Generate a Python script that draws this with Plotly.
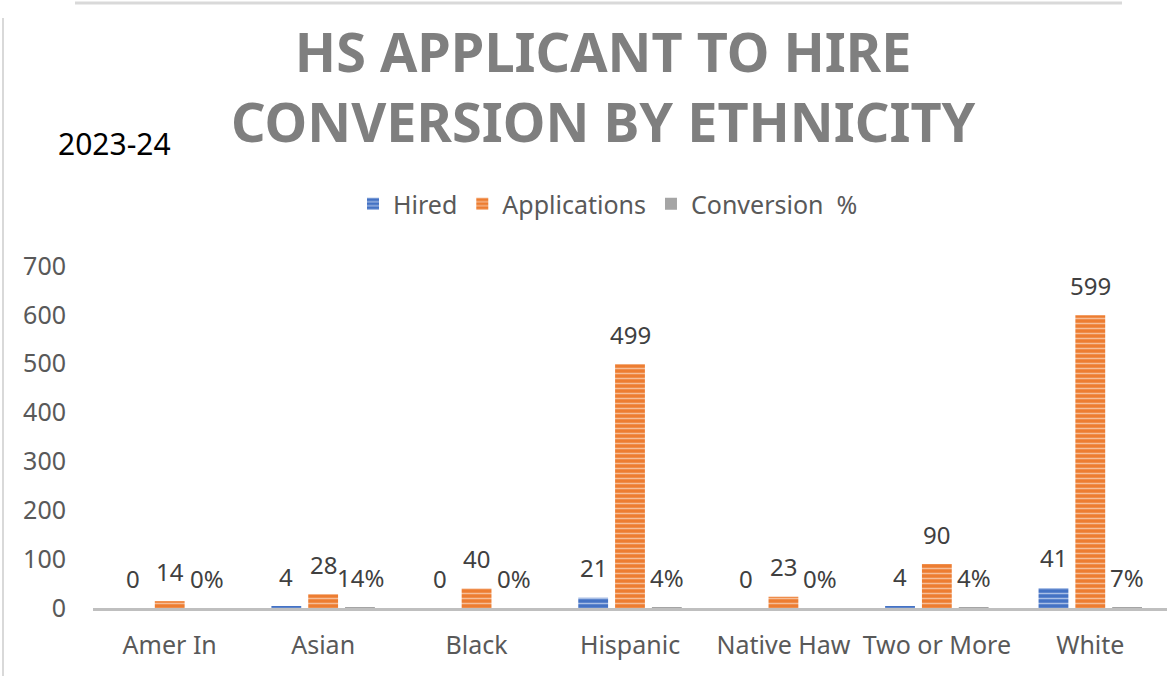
import plotly.graph_objects as go

# Data
categories = ["Amer In", "Asian", "Black", "Hispanic", "Native Haw", "Two or More", "White"]
hired = [0, 4, 0, 21, 0, 4, 41]
applications = [14, 28, 40, 499, 23, 90, 599]
conversion = [0.00, 0.14, 0.00, 0.04, 0.00, 0.04, 0.07]

# Page geometry (pixels)
W, H = 1167, 676
L, R, T, B = 93, 0, 266, 68
PW, PH = W - L - R, H - T - B

FONT = "Noto Sans"
LABEL_COLOR = "#404040"
AXIS_TEXT = "#595959"


def px_x(px):
    return (px - L) / PW


def px_y(py):
    return (H - B - py) / PH


fig = go.Figure()

fig.add_trace(go.Bar(
    name="Hired", x=categories, y=hired,
    marker=dict(color="#4472C4",
                line=dict(width=0),
                pattern=dict(shape="-", size=5, solidity=0.3,
                             fgcolor="#A9BFE6", bgcolor="#4472C4",
                             fgopacity=1, fillmode="replace")),
))
fig.add_trace(go.Bar(
    name="Applications", x=categories, y=applications,
    marker=dict(color="#ED7D31",
                line=dict(width=0),
                pattern=dict(shape="-", size=5, solidity=0.3,
                             fgcolor="#F6BE98", bgcolor="#ED7D31",
                             fgopacity=1, fillmode="replace")),
))
fig.add_trace(go.Bar(
    name="Conversion  %", x=categories, y=conversion,
    marker=dict(color="#A5A5A5", line=dict(width=0)),
))

# Value labels above each bar
offsets = [-37, 0, 37]
series = [
    (hired, lambda v: f"{v}"),
    (applications, lambda v: f"{v}"),
    (conversion, lambda v: f"{v:.0%}"),
]
for (vals, fmt), dx in zip(series, offsets):
    for c, v in zip(categories, vals):
        fig.add_annotation(
            x=c, y=v, xref="x", yref="y", text=fmt(v), showarrow=False,
            xshift=dx, yshift=30, yanchor="middle", xanchor="center",
            font=dict(family=FONT, size=24, color=LABEL_COLOR),
        )

# Chart title
fig.add_annotation(
    x=px_x(603), y=px_y(86), xref="paper", yref="paper",
    text="HS APPLICANT TO HIRE<br>CONVERSION BY ETHNICITY", showarrow=False,
    xanchor="center", yanchor="middle", align="center",
    font=dict(family=FONT, size=54, color="#7F7F7F", weight="bold"),
)

# Season label
fig.add_annotation(
    x=px_x(56), y=px_y(143), xref="paper", yref="paper", text="2023-24",
    showarrow=False, xanchor="left", yanchor="middle",
    font=dict(family=FONT, size=30, color="#000000"),
)

# Frame edges
fig.add_shape(type="line", xref="paper", yref="paper",
              x0=px_x(75), x1=px_x(1122), y0=px_y(3), y1=px_y(3),
              line=dict(color="#D9D9D9", width=3))
fig.add_shape(type="line", xref="paper", yref="paper",
              x0=px_x(3), x1=px_x(3), y0=px_y(18), y1=px_y(676),
              line=dict(color="#D9D9D9", width=2))

fig.update_layout(
    width=W, height=H,
    margin=dict(l=L, r=R, t=T, b=B, autoexpand=False),
    paper_bgcolor="white", plot_bgcolor="white",
    barmode="group", bargap=0.28, bargroupgap=0.19,
    legend=dict(
        orientation="h", xref="container", yref="container",
        x=608 / W, xanchor="center", y=1 - 204 / H, yanchor="middle",
        font=dict(family=FONT, size=25, color=AXIS_TEXT),
        bgcolor="rgba(0,0,0,0)", itemclick=False,
    ),
    showlegend=True,
    font=dict(family=FONT),
)

fig.update_xaxes(
    showgrid=False, showline=True, linecolor="#BFBFBF", linewidth=3,
    ticks="", ticklabelstandoff=13,
    tickfont=dict(family=FONT, size=25, color=AXIS_TEXT),
    zeroline=False,
)
fig.update_yaxes(
    range=[0, 700], dtick=100, showgrid=False, showline=False,
    zeroline=False, ticks="", ticklabelstandoff=26,
    tickfont=dict(family=FONT, size=25, color=AXIS_TEXT),
)

fig.write_html("out.html")
